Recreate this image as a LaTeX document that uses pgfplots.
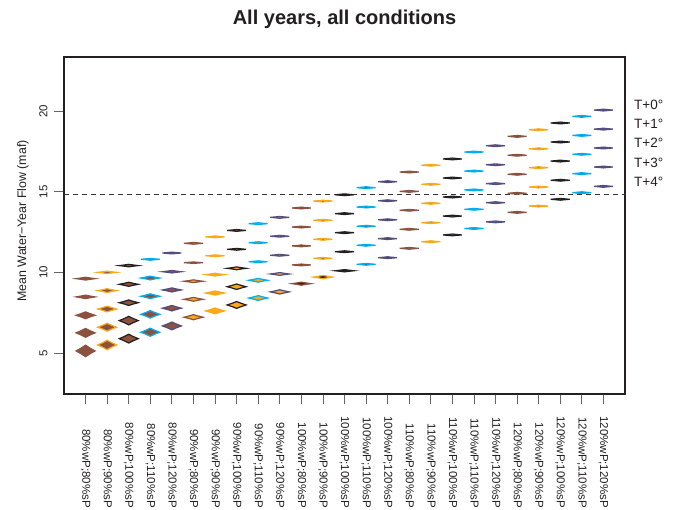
\documentclass[border=0pt]{standalone}
\usepackage{pgfplots}
\pgfplotsset{compat=1.18}
\usepackage{fontspec}
\setmainfont{Liberation Sans}
\usepackage{graphicx}
\definecolor{cBr}{RGB}{141,82,62}
\definecolor{cOr}{RGB}{250,169,25}
\definecolor{cBk}{RGB}{35,31,32}
\definecolor{cBl}{RGB}{0,174,239}
\definecolor{cPu}{RGB}{84,77,125}

\pgfdeclareplotmark{violin}{%
  \pgfpathmoveto{\pgfpoint{0pt}{\hh pt}}%
  \pgfpathcurveto{\pgfpoint{2.8pt}{\hh*0.62pt}}{\pgfpoint{6.3pt}{\hh*0.3pt}}{\pgfpoint{9.5pt}{0pt}}%
  \pgfpathcurveto{\pgfpoint{6.3pt}{-\hh*0.3pt}}{\pgfpoint{2.8pt}{-\hh*0.62pt}}{\pgfpoint{0pt}{-\hh pt}}%
  \pgfpathcurveto{\pgfpoint{-2.8pt}{-\hh*0.62pt}}{\pgfpoint{-6.3pt}{-\hh*0.3pt}}{\pgfpoint{-9.5pt}{0pt}}%
  \pgfpathcurveto{\pgfpoint{-6.3pt}{\hh*0.3pt}}{\pgfpoint{-2.8pt}{\hh*0.62pt}}{\pgfpoint{0pt}{\hh pt}}%
  \pgfpathclose
  \pgfusepathqfillstroke}

\newcommand\vio[4]{%
\addplot[scatter, only marks, mark=violin, line width=1.2pt,
  scatter/use mapped color={draw=#2,fill=#3},
  visualization depends on={value \thisrow{h}\as\hh}]
  table[row sep=\\, x expr=#1, y=y]{y h\\ #4};}

\begin{document}
\begin{tikzpicture}
\useasboundingbox (-64pt,-115pt) rectangle (611pt,394pt);
\begin{axis}[
  at={(0pt,0pt)}, anchor=south west,
  scale only axis, width=561pt, height=337pt,
  xmin=0, xmax=26, ymin=2.46, ymax=23.35,
  clip=false,
  tick pos=left, tick align=outside, major tick length=10pt,
  axis line style={line width=1.3pt, cBk},
  every tick/.style={black!60, line width=0.8pt},
  xtick={1,...,25},
  xticklabels={80\%wP;80\%sP,80\%wP;90\%sP,80\%wP;100\%sP,80\%wP;110\%sP,80\%wP;120\%sP,
    90\%wP;80\%sP,90\%wP;90\%sP,90\%wP;100\%sP,90\%wP;110\%sP,90\%wP;120\%sP,
    100\%wP;80\%sP,100\%wP;90\%sP,100\%wP;100\%sP,100\%wP;110\%sP,100\%wP;120\%sP,
    110\%wP;80\%sP,110\%wP;90\%sP,110\%wP;100\%sP,110\%wP;110\%sP,110\%wP;120\%sP,
    120\%wP;80\%sP,120\%wP;90\%sP,120\%wP;100\%sP,120\%wP;110\%sP,120\%wP;120\%sP},
  xticklabel style={font=\fontsize{11.5}{12}\selectfont, yshift=-104pt, rotate=-90, anchor=east, inner sep=0pt, text=cBk},
  ytick={5,10,15,20},
  yticklabel style={font=\fontsize{11.5}{12}\selectfont, xshift=-3pt, rotate=90, anchor=south, text=cBk},
  /pgf/number format/assume math mode=true,
]
\addplot[cBk!90, line width=1pt, dash pattern=on 5pt off 4pt] coordinates {(0,14.8) (26,14.8)};
\vio{1}{cBr}{cBr}{9.61 1.4\\ 8.48 1.75\\ 7.34 3.4\\ 6.25 4.4\\ 5.13 5.75\\}
\vio{2}{cOr}{cBr}{10.00 1.25\\ 8.87 1.9\\ 7.73 2.9\\ 6.60 3.9\\ 5.50 4.75\\}
\vio{3}{cBk}{cBr}{10.42 1.25\\ 9.26 2.05\\ 8.12 2.75\\ 7.01 4.25\\ 5.89 4.4\\}
\vio{4}{cBl}{cBr}{10.81 0.9\\ 9.65 1.9\\ 8.52 2.4\\ 7.40 3.75\\ 6.29 4.05\\}
\vio{5}{cPu}{cBr}{11.20 0.9\\ 10.04 1.25\\ 8.91 2.05\\ 7.78 2.75\\ 6.68 3.9\\}
\vio{6}{cBr}{cOr}{11.80 0.9\\ 10.60 0.75\\ 9.45 1.4\\ 8.33 1.9\\ 7.22 2.55\\}
\vio{7}{cOr}{cOr}{12.20 0.9\\ 11.03 0.9\\ 9.86 1.4\\ 8.72 2.05\\ 7.61 2.9\\}
\vio{8}{cBk}{cOr}{12.60 0.9\\ 11.43 0.9\\ 10.25 1.4\\ 9.11 2.75\\ 7.98 3.4\\}
\vio{9}{cBl}{cOr}{13.02 0.9\\ 11.84 0.9\\ 10.66 0.9\\ 9.51 1.9\\ 8.41 2.4\\}
\vio{10}{cPu}{cOr}{13.41 0.9\\ 12.24 0.9\\ 11.06 0.9\\ 9.90 1.4\\ 8.79 2.15\\}
\vio{11}{cBr}{cBk}{13.99 0.9\\ 12.81 0.9\\ 11.64 0.9\\ 10.46 0.9\\ 9.30 1.55\\}
\vio{12}{cOr}{cBk}{14.42 0.9\\ 13.23 0.9\\ 12.05 0.9\\ 10.87 0.9\\ 9.71 1.65\\}
\vio{13}{cBk}{cBk}{14.81 0.9\\ 13.64 0.9\\ 12.46 0.9\\ 11.28 0.9\\ 10.10 1.15\\}
\vio{14}{cBl}{cBk}{15.25 0.9\\ 14.05 0.9\\ 12.86 0.9\\ 11.68 0.9\\ 10.50 0.9\\}
\vio{15}{cPu}{cBk}{15.62 0.9\\ 14.44 0.9\\ 13.26 0.9\\ 12.09 0.9\\ 10.91 0.9\\}
\vio{16}{cBr}{cBl}{16.22 0.9\\ 15.02 0.9\\ 13.85 0.9\\ 12.67 0.9\\ 11.49 0.9\\}
\vio{17}{cOr}{cBl}{16.64 0.9\\ 15.46 0.9\\ 14.28 0.9\\ 13.08 0.9\\ 11.90 0.9\\}
\vio{18}{cBk}{cBl}{17.03 0.9\\ 15.85 0.9\\ 14.67 0.9\\ 13.49 0.9\\ 12.32 0.9\\}
\vio{19}{cBl}{cBl}{17.46 0.9\\ 16.28 0.9\\ 15.11 0.9\\ 13.91 0.9\\ 12.72 0.9\\}
\vio{20}{cPu}{cBl}{17.85 0.9\\ 16.67 0.9\\ 15.50 0.9\\ 14.32 0.9\\ 13.13 0.9\\}
\vio{21}{cBr}{cPu}{18.43 0.9\\ 17.26 0.9\\ 16.08 0.9\\ 14.90 0.9\\ 13.72 0.9\\}
\vio{22}{cOr}{cPu}{18.84 0.9\\ 17.66 0.9\\ 16.49 0.9\\ 15.29 0.9\\ 14.11 0.9\\}
\vio{23}{cBk}{cPu}{19.26 0.9\\ 18.08 0.9\\ 16.90 0.9\\ 15.71 0.9\\ 14.53 0.9\\}
\vio{24}{cBl}{cPu}{19.67 0.9\\ 18.49 0.9\\ 17.32 0.9\\ 16.12 0.9\\ 14.94 0.9\\}
\vio{25}{cPu}{cPu}{20.06 0.9\\ 18.88 0.9\\ 17.71 0.9\\ 16.53 0.9\\ 15.33 0.9\\}
\node[anchor=west, font=\fontsize{13.5}{14}\selectfont, text=cBk] at (axis cs:26.26,20.37) {T+0°};
\node[anchor=west, font=\fontsize{13.5}{14}\selectfont, text=cBk] at (axis cs:26.26,19.19) {T+1°};
\node[anchor=west, font=\fontsize{13.5}{14}\selectfont, text=cBk] at (axis cs:26.26,18.02) {T+2°};
\node[anchor=west, font=\fontsize{13.5}{14}\selectfont, text=cBk] at (axis cs:26.26,16.78) {T+3°};
\node[anchor=west, font=\fontsize{13.5}{14}\selectfont, text=cBk] at (axis cs:26.26,15.60) {T+4°};
\end{axis}
\node[rotate=90, font=\fontsize{12.4}{13}\selectfont, text=cBk] at (-41pt,173pt) {Mean Water−Year Flow (maf)};
\node[anchor=base, font=\fontsize{20}{22}\selectfont\bfseries, text=cBk] at (280.5pt,369pt) {All years, all conditions};
\end{tikzpicture}
\end{document}
